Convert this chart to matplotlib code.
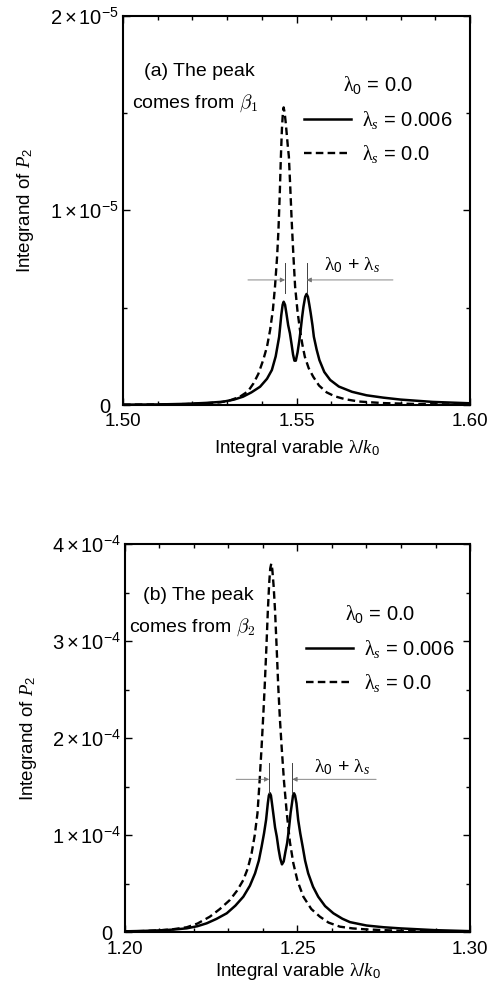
import numpy as np
import matplotlib
matplotlib.use("Agg")
import matplotlib.pyplot as plt
from matplotlib.ticker import MultipleLocator, FixedLocator, FixedFormatter
from matplotlib.transforms import ScaledTranslation

plt.rcParams['font.family'] = ['Liberation Sans', 'DejaVu Sans']
plt.rcParams['mathtext.fontset'] = 'custom'
plt.rcParams['mathtext.rm'] = 'Liberation Sans'
plt.rcParams['mathtext.it'] = 'Liberation Serif:italic'
plt.rcParams['mathtext.sf'] = 'Liberation Serif'

# ---- panel (a): peak from beta_1, values in units of 1e-5 ----
xa_dash = [1.500, 1.510, 1.518, 1.524, 1.528, 1.531, 1.5337, 1.536, 1.5376, 1.539,
           1.5404, 1.5415, 1.5424, 1.5432, 1.5438, 1.5444, 1.5448, 1.5452, 1.5455,
           1.5458, 1.5461, 1.5463, 1.5466, 1.5469, 1.5472, 1.5475, 1.5478, 1.5482,
           1.5486, 1.5491, 1.5496, 1.5503, 1.5510, 1.5517, 1.5524, 1.5535, 1.5548,
           1.5565, 1.5587, 1.5610, 1.5640, 1.5680, 1.5750, 1.5850, 1.6000]
ya_dash = [0.002, 0.003, 0.005, 0.009, 0.014, 0.025, 0.043, 0.070, 0.111, 0.160,
           0.231, 0.300, 0.386, 0.490, 0.608, 0.760, 0.900, 1.100, 1.277,
           1.420, 1.510, 1.530, 1.500, 1.450, 1.390, 1.330, 1.277, 1.120,
           0.951, 0.770, 0.608, 0.480, 0.386, 0.310, 0.248, 0.190, 0.146,
           0.100, 0.065, 0.045, 0.030, 0.018, 0.010, 0.005, 0.002]

xa_solid = [1.500, 1.510, 1.518, 1.524, 1.5288, 1.532, 1.5346, 1.537, 1.5395, 1.5415,
            1.5429, 1.5440, 1.5450, 1.5456, 1.5460, 1.5463, 1.5467, 1.5471, 1.5476,
            1.5481, 1.5486, 1.5490, 1.5494, 1.5498, 1.5503, 1.5508, 1.5512, 1.5516,
            1.5520, 1.5525, 1.5529, 1.5533, 1.5537, 1.5541, 1.5546, 1.5550, 1.5558,
            1.5566, 1.5580, 1.5597, 1.5622, 1.5660, 1.5702, 1.5750, 1.5800, 1.5893,
            1.6000]
ya_solid = [0.002, 0.003, 0.006, 0.011, 0.017, 0.028, 0.043, 0.065, 0.094, 0.135,
            0.180, 0.250, 0.351, 0.460, 0.515, 0.531, 0.515, 0.470, 0.410,
            0.369, 0.310, 0.260, 0.228, 0.228, 0.270, 0.330, 0.386, 0.450,
            0.505, 0.556, 0.571, 0.556, 0.515, 0.471, 0.410, 0.351, 0.285,
            0.231, 0.170, 0.129, 0.095, 0.068, 0.050, 0.038, 0.028, 0.016,
            0.009]

# ---- panel (b): peak from beta_2, values in units of 1e-4 ----
xb_dash = [1.200, 1.205, 1.210, 1.214, 1.2179, 1.221, 1.2246, 1.2275, 1.2304, 1.2325,
           1.2343, 1.2356, 1.2367, 1.2376, 1.2384, 1.2390, 1.2396, 1.2401, 1.2405,
           1.2410, 1.2414, 1.2418, 1.2421, 1.2424, 1.2427, 1.2431, 1.2435, 1.2440,
           1.2444, 1.2449, 1.2454, 1.2461, 1.2469, 1.2478, 1.2488, 1.2500, 1.2517,
           1.2540, 1.2565, 1.2590, 1.2623, 1.2660, 1.2700, 1.2800, 1.2900, 1.3000]
yb_dash = [0.008, 0.013, 0.020, 0.032, 0.052, 0.090, 0.161, 0.240, 0.333, 0.430,
           0.539, 0.660, 0.814, 1.000, 1.227, 1.550, 1.913, 2.250, 2.540,
           2.950, 3.310, 3.600, 3.750, 3.800, 3.740, 3.560, 3.310, 2.900,
           2.550, 2.200, 1.913, 1.550, 1.227, 0.930, 0.711, 0.530, 0.367,
           0.240, 0.161, 0.100, 0.058, 0.040, 0.030, 0.015, 0.009, 0.006]

xb_solid = [1.200, 1.205, 1.210, 1.214, 1.2179, 1.2210, 1.2237, 1.2265, 1.2295, 1.2320,
            1.2343, 1.2362, 1.2377, 1.2388, 1.2396, 1.2403, 1.2409, 1.2414, 1.2417,
            1.2420, 1.2423, 1.2426, 1.2430, 1.2435, 1.2440, 1.2445, 1.2450, 1.2455,
            1.2460, 1.2465, 1.2470, 1.2475, 1.2480, 1.2484, 1.2487, 1.2490, 1.2493,
            1.2497, 1.2502, 1.2508, 1.2515, 1.2522, 1.2531, 1.2545, 1.2560, 1.2580,
            1.2604, 1.2630, 1.2652, 1.2700, 1.2750, 1.2800, 1.2900, 1.3000]
yb_solid = [0.010, 0.014, 0.020, 0.028, 0.041, 0.063, 0.093, 0.138, 0.196, 0.275,
            0.367, 0.480, 0.608, 0.740, 0.883, 1.020, 1.160, 1.330, 1.410,
            1.433, 1.410, 1.330, 1.220, 1.080, 0.986, 0.860, 0.760, 0.700,
            0.730, 0.830, 0.920, 1.060, 1.230, 1.330, 1.410, 1.433, 1.410,
            1.330, 1.158, 1.020, 0.883, 0.740, 0.608, 0.470, 0.367, 0.270,
            0.196, 0.140, 0.105, 0.070, 0.052, 0.040, 0.022, 0.012]

panels = [
    dict(x_dash=xa_dash, y_dash=ya_dash, x_solid=xa_solid, y_solid=ya_solid,
         scale=1e-5, xlim=(1.50, 1.60), xticks=[1.50, 1.55, 1.60],
         xticklabels=['1.50', '1.55', '1.60'], ymax=2,
         yticklabels=['0', r'$1\times10^{-5}$', r'$2\times10^{-5}$'],
         split_x=[1.5467, 1.5529], split_y=(0.576, 0.73), arrow_y=0.643,
         arrow_from=(1.536, 1.5778), split_text=(1.5661, 0.72),
         tag='(a) The peak', beta=r'comes from $\beta_1$',
         tag_pos=(0.060, 0.856), beta_pos=(0.026, 0.776),
         leg_anchor=(0.522, 0.850), rect=[0.2485, 0.5888, 0.701, 0.395],
         xlabel_y=-0.086),
    dict(x_dash=xb_dash, y_dash=yb_dash, x_solid=xb_solid, y_solid=yb_solid,
         scale=1e-4, xlim=(1.20, 1.30), xticks=[1.20, 1.25, 1.30],
         xticklabels=['1.20', '1.25', '1.30'], ymax=4,
         yticklabels=['0', r'$1\times10^{-4}$', r'$2\times10^{-4}$',
                      r'$3\times10^{-4}$', r'$4\times10^{-4}$'],
         split_x=[1.2418, 1.2485], split_y=(1.433, 1.742), arrow_y=1.577,
         arrow_from=(1.2322, 1.2728), split_text=(1.2630, 1.707),
         tag='(b) The peak', beta=r'comes from $\beta_2$',
         tag_pos=(0.052, 0.868), beta_pos=(0.012, 0.787),
         leg_anchor=(0.525, 0.848), rect=[0.2525, 0.0535, 0.697, 0.394],
         xlabel_y=-0.074),
]

fig = plt.figure(figsize=(4.95, 9.85), dpi=100)
fs = 13.5

for p in panels:
    ax = fig.add_axes(p['rect'])
    s = p['scale']
    solid, = ax.plot(p['x_solid'], np.array(p['y_solid']) * s, color='black',
                     lw=1.8, solid_joinstyle='round')
    dash, = ax.plot(p['x_dash'], np.array(p['y_dash']) * s, color='black',
                    lw=1.7, linestyle=(0, (3.2, 1.8)))

    ax.set_xlim(*p['xlim'])
    ax.set_ylim(0, p['ymax'] * s)
    ax.xaxis.set_major_locator(FixedLocator(p['xticks']))
    ax.xaxis.set_major_formatter(FixedFormatter(p['xticklabels']))
    ax.xaxis.set_minor_locator(MultipleLocator(0.01))
    yt = [k * s for k in range(p['ymax'] + 1)]
    ax.yaxis.set_major_locator(FixedLocator(yt))
    ax.yaxis.set_major_formatter(FixedFormatter(p['yticklabels']))
    ax.yaxis.set_minor_locator(MultipleLocator(0.5 * s))
    ax.tick_params(which='both', direction='in', top=True, right=True, width=1.0)
    ax.tick_params(which='major', length=5)
    ax.tick_params(which='minor', length=3)
    ax.tick_params(axis='x', labelsize=fs, pad=6)
    ax.tick_params(axis='y', labelsize=14.5, pad=3)
    for sp in ax.spines.values():
        sp.set_linewidth(1.5)

    # the "0" on the y axis sits a little to the left of the others
    zero = ax.yaxis.get_major_ticks()[0].label1
    zero.set_transform(zero.get_transform()
                       + ScaledTranslation(-6 / 72, 0, fig.dpi_scale_trans))

    ax.set_ylabel(r'Integrand of $P_2$', fontsize=fs)
    ax.yaxis.set_label_coords(-0.25, 0.5)
    ax.set_xlabel(r'Integral varable $\mathsf{\lambda}/k_{\mathit{0}}$', fontsize=fs)
    ax.xaxis.set_label_coords(0.5, p['xlabel_y'])

    # splitting markers between the two peaks
    y0, y1 = p['split_y']
    for xv in p['split_x']:
        ax.plot([xv, xv], [y0 * s, y1 * s], color='0.25', lw=0.7)
    arrow_kw = dict(arrowstyle='-|>', lw=0.6, color='0.45', mutation_scale=7,
                    shrinkA=0, shrinkB=0)
    ax.annotate('', xy=(p['split_x'][0], p['arrow_y'] * s),
                xytext=(p['arrow_from'][0], p['arrow_y'] * s), arrowprops=arrow_kw)
    ax.annotate('', xy=(p['split_x'][1], p['arrow_y'] * s),
                xytext=(p['arrow_from'][1], p['arrow_y'] * s), arrowprops=arrow_kw)
    ax.text(p['split_text'][0], p['split_text'][1] * s,
            r'$\mathsf{\lambda}_{\mathit{0}}$ + $\mathsf{\lambda}_{\mathit{s}}$',
            fontsize=14, ha='center', va='center')

    ax.text(*p['tag_pos'], p['tag'], transform=ax.transAxes, fontsize=14,
            ha='left', va='center')
    t = ax.text(*p['beta_pos'], p['beta'], transform=ax.transAxes, fontsize=14,
                ha='left', va='center')
    t.set_math_fontfamily('cm')

    leg = ax.legend([solid, dash],
                    [r'$\mathsf{\lambda}_{\mathit{s}}$ = 0.006',
                     r'$\mathsf{\lambda}_{\mathit{s}}$ = 0.0'],
                    title=r'$\mathsf{\lambda}_{\mathit{0}}$ = 0.0',
                    loc='upper left', bbox_to_anchor=p['leg_anchor'],
                    frameon=False, fontsize=14.5, title_fontsize=14.5,
                    handlelength=2.35, handletextpad=0.5, labelspacing=0.62,
                    borderpad=0, borderaxespad=0)
    leg._legend_box.sep = 9

fig.savefig('out.png', dpi=100, facecolor='white')
